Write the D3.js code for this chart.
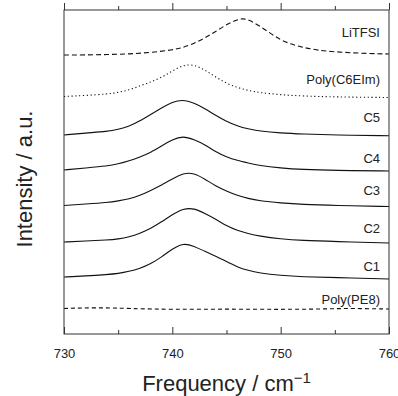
<!DOCTYPE html>
<html>
<head>
<meta charset="utf-8">
<script src="https://cdn.jsdelivr.net/npm/d3@7"></script>
<style>
  body { margin: 0; background: #fff; }
  svg { display: block; font-family: "Liberation Sans", Arial, Helvetica, sans-serif; }
</style>
</head>
<body>
<svg width="398" height="396"></svg>
<script>
// frequency grid (cm-1) shared by most spectra
var freq = [730, 732, 734, 735, 736, 737, 738, 739, 740, 741, 742, 743, 744, 745, 746, 747, 748, 750, 752, 755, 760];
var freqLiTFSI = [730, 732, 734, 736, 738, 740, 741, 742, 743, 744, 745, 746, 746.5, 747, 748, 749, 750, 751, 752, 753, 754, 756, 758, 760];
var freqPE8 = [730, 733, 736, 740, 745, 750, 754, 756, 760];

// stacked intensities (a.u., offset already included)
var liTFSI = [279, 279, 279.5, 280, 281.5, 284, 286.5, 290.5, 296, 302.5, 309.5, 314.5, 315.5, 314.5, 308.5, 301, 294, 289.7, 286.7, 284.7, 283, 281.5, 280.5, 280];
var polyC6EIm = [237.5, 238.5, 240, 241.5, 244, 248, 252, 256.5, 263, 269, 269.5, 264, 257, 250.5, 246.5, 243.5, 241.5, 239.2, 238, 237, 236.5];
var c5 = [199, 201, 202.5, 204.5, 207.5, 213, 219.5, 226, 232, 234.5, 231, 225.5, 218.5, 212.5, 208, 205, 203, 201, 200, 199, 198.3];
var c4 = [164, 166, 168, 170, 173, 177, 181.5, 188, 194.5, 198, 194.5, 189.5, 182, 177, 173.5, 171, 168.5, 166, 164.5, 163.5, 163];
var c3 = [128.5, 130, 131.5, 133, 135, 138.5, 143.5, 149, 155, 161, 161, 155, 148, 143, 138.5, 135.5, 133.2, 131, 129.5, 128.5, 127.5];
var c2 = [92, 93, 94, 95, 97, 100.5, 105.5, 112, 119.5, 125.5, 125.8, 120.5, 115, 108, 103.5, 100.5, 98, 95, 93.5, 92.5, 91];
var c1 = [57, 58, 59.5, 60.5, 62.5, 65.5, 70, 77, 85, 91, 88, 82.5, 78, 72.5, 67, 63.5, 61, 58.5, 57.2, 56.5, 55];
var polyPE8 = [25.5, 26.5, 25.5, 24.5, 25, 24.5, 25, 25.7, 25];

var seriesNames = ["LiTFSI", "Poly(C6EIm)", "C5", "C4", "C3", "C2", "C1", "Poly(PE8)"];
var majorTicks = [730, 740, 750, 760];
var minorTicks = [735, 745, 755];

window.onload = function() {
  var svg = d3.select("svg");
  var margin = {top: 10, right: 9, bottom: 62, left: 64};
  var width = svg.attr("width") - margin.left - margin.right;
  var height = svg.attr("height") - margin.top - margin.bottom;

  var x = d3.scaleLinear().domain([730, 760]).range([0, width]);
  var y = d3.scaleLinear().domain([0, 324]).range([height, 0]);

  var series = [
    {name: seriesNames[0], xs: freqLiTFSI, ys: liTFSI, dash: "5,3", lab: 17},
    {name: seriesNames[1], xs: freq, ys: polyC6EIm, dash: "1.2,2.6", lab: 14},
    {name: seriesNames[2], xs: freq, ys: c5, dash: null, lab: 14},
    {name: seriesNames[3], xs: freq, ys: c4, dash: null, lab: 8},
    {name: seriesNames[4], xs: freq, ys: c3, dash: null, lab: 11.5},
    {name: seriesNames[5], xs: freq, ys: c2, dash: null, lab: 10},
    {name: seriesNames[6], xs: freq, ys: c1, dash: null, lab: 8},
    {name: seriesNames[7], xs: freqPE8, ys: polyPE8, dash: "4,3", lab: 5}
  ];

  var g = svg.append("g").attr("transform", "translate(" + margin.left + "," + margin.top + ")");

  var line = d3.line()
    .x(function(d) { return x(d[0]); })
    .y(function(d) { return y(d[1]); })
    .curve(d3.curveBasis);

  g.selectAll("path.spec")
    .data(series)
    .enter().append("path")
    .attr("class", "spec")
    .attr("fill", "none")
    .attr("stroke", "#111")
    .attr("stroke-width", 1.1)
    .attr("stroke-dasharray", function(d) { return d.dash; })
    .attr("d", function(d) { return line(d3.zip(d.xs, d.ys)); });

  // curve labels, right aligned just above each trace
  g.selectAll("text.lab")
    .data(series)
    .enter().append("text")
    .attr("class", "lab")
    .attr("x", width - 9)
    .attr("y", function(d) { return y(d.ys[d.ys.length - 1]) - d.lab; })
    .attr("text-anchor", "end")
    .attr("font-size", 13)
    .attr("fill", "#222")
    .text(function(d) { return d.name; });

  // ticks point inward, top and bottom
  function axes(gen, ty) {
    var major = g.append("g").attr("transform", "translate(0," + ty + ")")
      .call(gen(x).tickValues(majorTicks).tickSize(-7 * (ty ? 1 : -1)).tickPadding(ty ? 15 : 3));
    var minor = g.append("g").attr("transform", "translate(0," + ty + ")")
      .call(gen(x).tickValues(minorTicks).tickSize(-4 * (ty ? 1 : -1)).tickFormat(""));
    [major, minor].forEach(function(a) {
      a.select(".domain").remove();
      a.selectAll("line").attr("stroke", "#333");
    });
    return major;
  }
  var bottom = axes(d3.axisBottom, height);
  bottom.selectAll("text").attr("font-size", 13).attr("fill", "#222").attr("font-family", null);
  var top = axes(d3.axisTop, 0);
  top.selectAll("text").remove();

  g.append("rect")
    .attr("width", width)
    .attr("height", height)
    .attr("fill", "none")
    .attr("stroke", "#333")
    .attr("stroke-width", 1);

  var xt = svg.append("text")
    .attr("x", margin.left + width / 2)
    .attr("y", 391)
    .attr("text-anchor", "middle")
    .attr("font-size", 22)
    .attr("fill", "#222");
  xt.append("tspan").text("Frequency / cm");
  xt.append("tspan").attr("dy", -8).attr("font-size", 15).text("\u22121");

  svg.append("text")
    .attr("transform", "translate(32,179) rotate(-90)")
    .attr("text-anchor", "middle")
    .attr("font-size", 22)
    .attr("fill", "#222")
    .text("Intensity / a.u.");
};
</script>
</body>
</html>
